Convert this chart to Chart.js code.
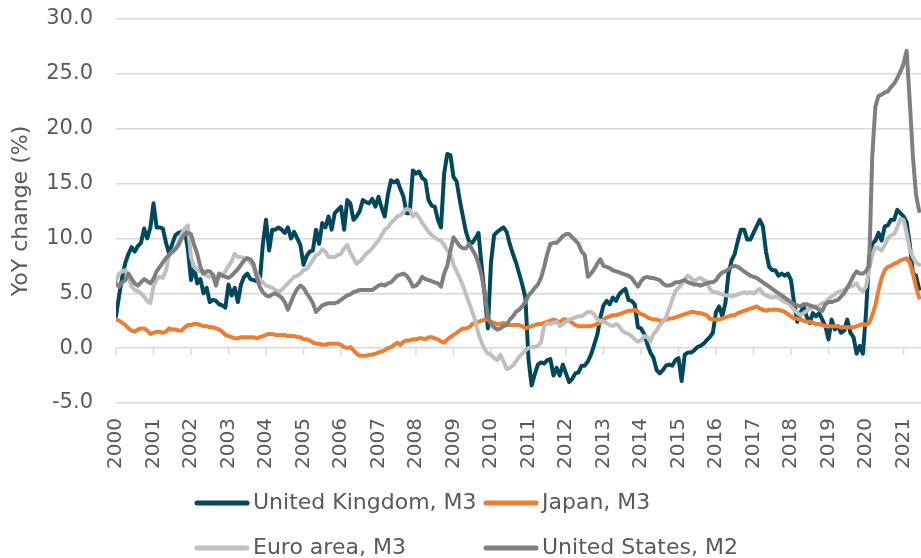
<!DOCTYPE html>
<html>
<head>
<meta charset="utf-8">
<script src="https://cdn.jsdelivr.net/npm/chart.js@4"></script>
<style>
  html, body { margin: 0; padding: 0; background: #fff; overflow: hidden; }
  #wrap { width: 921px; height: 558px; }
</style>
</head>
<body>
<div id="wrap"><canvas id="myChart" width="921" height="558"></canvas></div>
<script>
// monthly YoY change (%), Jan 2000 .. Jun 2021
const years = ['2000', '2001', '2002', '2003', '2004', '2005', '2006', '2007', '2008', '2009', '2010',
               '2011', '2012', '2013', '2014', '2015', '2016', '2017', '2018', '2019', '2020', '2021'];
const seriesNames = ['United Kingdom, M3', 'Japan, M3', 'Euro area, M3', 'United States, M2'];

const ukM3 = [
  2.9, 4.8, 6.5, 7.8, 8.6, 9.2, 8.8, 9.3, 9.6, 10.9, 10.0, 11.0,
  13.2, 11.0, 11.0, 10.9, 9.6, 8.6, 9.5, 10.3, 10.5, 10.6, 10.8, 9.0,
  6.2, 7.4, 5.9, 6.3, 5.0, 5.5, 4.2, 4.4, 4.3, 4.0, 3.9, 3.7,
  5.8, 4.8, 5.5, 4.2, 5.8, 6.5, 6.8, 6.3, 6.2, 6.1, 6.0, 9.5,
  11.7, 8.9, 10.8, 10.8, 11.0, 10.8, 10.5, 11.0, 10.0, 10.6, 10.0, 9.4,
  7.6, 8.4, 8.8, 8.9, 10.8, 9.5, 11.4, 11.0, 12.0, 10.8, 12.3, 12.6,
  12.9, 10.8, 13.5, 13.2, 11.7, 12.0, 12.5, 13.5, 13.3, 13.2, 13.6, 12.9,
  13.8, 12.8, 12.0, 14.0, 15.3, 15.1, 15.3, 14.5, 13.8, 12.3, 12.3, 16.2,
  15.9, 16.1, 15.5, 15.3, 13.5, 13.0, 12.9, 11.7, 11.0, 15.9, 17.7, 17.6,
  15.6, 15.2, 13.5, 12.0, 10.6, 9.7, 9.6, 10.0, 10.5, 7.5, 4.8, 1.8,
  7.8, 10.3, 10.6, 10.8, 11.0, 10.6, 9.5, 8.6, 7.8, 6.8, 5.8, 4.6,
  -1.0, -3.4, -2.4, -1.5, -1.3, -1.4, -1.1, -1.0, -2.5, -1.8, -2.5, -1.5,
  -2.3, -3.1, -2.8, -2.3, -2.2, -1.6, -1.6, -1.2, -0.6, 0.3, 1.2, 2.8,
  3.9, 4.3, 4.0, 4.6, 4.3, 4.9, 5.2, 5.4, 4.4, 4.3, 4.0, 1.9,
  1.8, 1.3, 0.4, -0.4, -0.9, -2.0, -2.3, -2.0, -1.6, -1.5, -1.6, -1.1,
  -0.9, -3.0, -0.6, -0.4, -0.4, -0.2, 0.1, 0.2, 0.4, 0.7, 1.0, 1.4,
  3.3, 3.8, 2.9, 4.1, 6.8, 8.0, 8.6, 9.8, 10.8, 10.8, 9.9, 9.9,
  10.5, 11.1, 11.7, 11.1, 8.8, 7.4, 7.1, 7.1, 6.6, 6.8, 6.6, 6.8,
  6.2, 4.1, 2.4, 3.2, 3.8, 2.9, 2.3, 3.2, 2.9, 3.2, 2.6, 2.0,
  0.8, 2.6, 1.7, 2.0, 1.4, 1.6, 2.6, 1.4, 1.0, -0.5, 0.2, -0.5,
  3.2, 8.3, 9.5, 9.8, 10.5, 9.8, 11.1, 11.2, 11.7, 11.7, 12.6, 12.3,
  12.0, 11.5, 9.5, 6.8, 6.6, 5.4
];

const japanM3 = [
  2.6, 2.5, 2.3, 2.1, 1.8, 1.6, 1.5, 1.7, 1.8, 1.8, 1.6, 1.3,
  1.4, 1.5, 1.5, 1.4, 1.5, 1.8, 1.7, 1.7, 1.6, 1.6, 1.9, 2.1,
  2.1, 2.2, 2.2, 2.1, 2.0, 2.0, 1.9, 1.9, 1.8, 1.7, 1.5, 1.2,
  1.1, 1.0, 0.9, 0.9, 1.0, 1.0, 1.0, 1.0, 1.0, 0.9, 1.0, 1.1,
  1.2, 1.3, 1.3, 1.2, 1.2, 1.2, 1.2, 1.1, 1.1, 1.1, 1.0, 1.0,
  0.8, 0.8, 0.7, 0.5, 0.4, 0.4, 0.3, 0.3, 0.4, 0.4, 0.4, 0.4,
  0.3, 0.1, 0.0, 0.1, -0.2, -0.5, -0.7, -0.7, -0.7, -0.6, -0.6, -0.5,
  -0.4, -0.3, -0.2, 0.0, 0.1, 0.3, 0.5, 0.3, 0.6, 0.7, 0.7, 0.8,
  0.8, 0.9, 0.9, 0.8, 1.0, 1.0, 0.9, 0.8, 0.6, 0.5, 0.8, 1.0,
  1.2, 1.4, 1.6, 1.8, 1.8, 1.9, 2.2, 2.3, 2.4, 2.5, 2.6, 2.6,
  2.4, 2.3, 2.2, 2.2, 2.3, 2.2, 2.1, 2.1, 2.1, 2.1, 2.0, 1.8,
  1.9, 2.0, 2.1, 2.2, 2.2, 2.3, 2.4, 2.5, 2.6, 2.5, 2.3, 2.6,
  2.6, 2.5, 2.3, 2.1, 2.0, 2.0, 2.0, 2.0, 2.0, 2.1, 2.2, 2.3,
  2.6, 2.8, 2.9, 3.0, 3.0, 3.1, 3.2, 3.3, 3.4, 3.4, 3.5, 3.3,
  3.1, 3.0, 2.8, 2.7, 2.6, 2.6, 2.5, 2.5, 2.6, 2.7, 2.7, 2.8,
  2.9, 3.0, 3.1, 3.2, 3.3, 3.3, 3.2, 3.2, 3.1, 3.0, 2.7, 2.6,
  2.6, 2.6, 2.7, 2.8, 2.9, 3.0, 3.0, 3.2, 3.3, 3.4, 3.5, 3.6,
  3.7, 3.8, 3.6, 3.5, 3.4, 3.5, 3.5, 3.5, 3.5, 3.4, 3.3, 3.1,
  2.9, 2.7, 2.7, 2.6, 2.5, 2.4, 2.4, 2.3, 2.2, 2.2, 2.1, 2.0,
  2.0, 2.0, 2.0, 2.0, 1.9, 1.9, 1.9, 1.9, 1.9, 2.0, 2.1, 2.2,
  2.1, 2.3, 3.0, 3.9, 5.3, 6.4, 7.1, 7.4, 7.5, 7.7, 7.8, 8.0,
  8.1, 8.2, 7.8, 6.8, 5.6, 4.6
];

const euroM3 = [
  6.2, 6.8, 7.0, 7.1, 6.5, 5.6, 5.3, 5.2, 5.0, 4.7, 4.3, 4.1,
  5.6, 6.3, 6.5, 6.4, 7.1, 8.5, 8.8, 9.1, 9.6, 10.4, 10.9, 11.2,
  8.3, 7.4, 7.1, 7.0, 6.8, 6.6, 6.5, 6.5, 6.5, 6.5, 6.6, 7.0,
  7.5, 7.9, 8.6, 8.3, 8.3, 8.2, 8.2, 7.8, 7.4, 6.8, 6.3, 6.0,
  5.7, 5.6, 5.5, 5.3, 5.1, 5.3, 5.6, 5.9, 6.2, 6.5, 6.6, 6.8,
  7.1, 7.2, 7.6, 8.0, 8.5, 8.6, 9.0, 8.8, 8.3, 8.3, 8.3, 8.5,
  8.6, 9.1, 9.4, 8.7, 8.2, 7.7, 7.9, 8.2, 8.6, 8.8, 9.1, 9.5,
  9.8, 10.3, 10.8, 11.0, 11.4, 11.7, 12.0, 12.1, 12.4, 12.7, 12.6, 12.0,
  12.3, 11.9, 11.4, 11.0, 10.6, 10.3, 10.1, 9.9, 9.8, 9.4, 8.9, 8.6,
  7.6, 7.0, 6.4, 5.7, 4.9, 4.1, 3.3, 2.5, 1.3, 0.5, -0.1, -0.5,
  -0.6, -0.9, -1.1, -0.6, -1.2, -1.9, -1.8, -1.6, -1.2, -0.8, -0.5, -0.2,
  0.0, 0.1, 0.1, 0.2, 0.5, 2.0, 2.3, 2.2, 2.3, 2.4, 2.0, 2.2,
  2.4, 2.6, 2.7, 2.8, 2.9, 2.9, 3.1, 3.3, 3.3, 3.1, 2.6, 2.5,
  2.4, 2.3, 2.1, 2.0, 2.2, 2.0, 1.6, 1.4, 1.3, 1.1, 0.8, 0.6,
  0.7, 1.1, 1.0, 0.6, 1.3, 1.6, 2.1, 2.4, 2.8, 3.6, 4.4, 5.2,
  5.5, 5.8, 6.3, 6.6, 6.4, 6.1, 6.3, 6.4, 6.2, 6.1, 5.4, 5.1,
  5.1, 5.0, 4.9, 4.8, 4.8, 4.7, 4.8, 4.9, 5.0, 5.1, 5.0, 5.1,
  5.0, 5.2, 5.4, 5.0, 4.8, 4.7, 4.6, 4.7, 4.6, 4.4, 4.2, 4.1,
  3.8, 3.5, 3.2, 3.0, 3.2, 3.4, 3.6, 3.7, 3.8, 3.9, 4.1, 4.2,
  4.5, 4.7, 4.9, 5.1, 5.2, 5.3, 5.5, 5.6, 5.7, 5.9, 5.4, 5.2,
  5.6, 7.2, 8.5, 9.2, 9.1, 8.9, 9.4, 10.0, 10.3, 10.4, 11.0, 11.8,
  11.7, 10.5, 9.0, 8.3, 7.8, 7.6
];

const usM2 = [
  5.9, 5.6, 6.0, 6.2, 6.8, 6.3, 5.9, 5.7, 6.0, 6.3, 6.1, 5.9,
  6.3, 7.0, 7.4, 7.8, 8.2, 8.5, 8.8, 9.0, 9.4, 10.0, 10.4, 10.5,
  10.4, 9.4, 8.6, 7.4, 6.8, 7.0, 7.0, 6.7, 5.7, 6.8, 6.6, 6.5,
  6.4, 6.6, 6.9, 7.2, 7.6, 8.0, 8.2, 8.1, 7.7, 6.5, 5.6, 5.1,
  4.8, 4.7, 4.9, 5.0, 4.8, 4.6, 4.2, 3.5, 4.2, 4.9, 5.4, 5.7,
  5.5, 5.0, 4.6, 4.1, 3.3, 3.6, 3.9, 4.0, 4.1, 4.1, 4.1, 4.2,
  4.4, 4.6, 4.8, 4.9, 5.1, 5.2, 5.3, 5.3, 5.3, 5.3, 5.3, 5.5,
  5.7, 5.8, 5.7, 5.9, 6.0, 6.3, 6.6, 6.7, 6.8, 6.6, 6.2, 5.6,
  5.7, 6.0, 6.5, 6.3, 6.2, 6.1, 6.0, 5.9, 5.6, 6.8, 7.5, 8.9,
  10.1, 9.7, 9.3, 9.1, 9.1, 9.5, 9.0, 8.5, 7.7, 6.6, 5.0, 2.8,
  2.2, 1.9, 1.7, 1.8, 2.0, 2.1, 2.6, 2.9, 3.3, 3.5, 3.8, 4.2,
  4.8, 5.1, 5.5, 5.8, 6.4, 7.4, 8.6, 9.5, 9.6, 9.6, 9.9, 10.2,
  10.4, 10.4, 10.1, 9.8, 9.5, 8.8, 8.5, 6.5, 6.8, 7.2, 7.7, 8.1,
  7.5, 7.4, 7.3, 7.1, 7.0, 6.9, 6.8, 6.7, 6.6, 6.4, 6.0, 5.6,
  6.1, 6.4, 6.5, 6.4, 6.4, 6.3, 6.2, 5.9, 5.7, 5.7, 5.8, 6.0,
  6.0, 6.1, 6.2, 6.0, 5.9, 5.8, 5.8, 5.7, 5.8, 5.9, 6.0, 6.0,
  6.2, 6.6, 6.9, 7.0, 7.2, 7.4, 7.5, 7.4, 7.2, 7.0, 6.8, 6.6,
  6.5, 6.4, 6.2, 6.0, 5.8, 5.6, 5.4, 5.2, 5.0, 4.8, 4.6, 4.4,
  4.2, 4.0, 3.9, 3.8, 4.0, 4.0, 3.9, 3.8, 3.7, 3.5, 3.4, 4.0,
  4.2, 4.2, 4.3, 4.4, 4.7, 5.0, 5.5, 6.0, 6.6, 7.0, 6.8, 6.8,
  7.0, 7.5, 17.5, 22.0, 23.0, 23.1, 23.3, 23.4, 23.8, 24.1, 24.6, 25.2,
  25.9, 27.1, 22.5, 17.5, 14.0, 12.5
];

const colors = ['#00485c', '#ed7d31', '#bfbfbf', '#7f7f7f'];
const textColor = '#595959';
const gridColor = '#d9d9d9';
const fontFamily = "'DejaVu Sans', sans-serif";

function toPoints(values) {
    return values.map((v, i) => ({ x: i, y: v }));
}

// small tick marks on the zero line, one per year
const zeroTicks = {
    id: 'zeroTicks',
    beforeDatasetsDraw(chart) {
        const ctx = chart.ctx;
        const xs = chart.scales.x;
        const y0 = chart.scales.y.getPixelForValue(0);
        ctx.save();
        ctx.strokeStyle = gridColor;
        ctx.lineWidth = 1.5;
        ctx.beginPath();
        years.forEach((yr, i) => {
            const px = xs.getPixelForValue(i * 12);
            ctx.moveTo(px, y0);
            ctx.lineTo(px, y0 + 7);
        });
        ctx.stroke();
        ctx.restore();
    }
};

// two-column legend under the axis
const bottomLegend = {
    id: 'bottomLegend',
    afterDraw(chart) {
        const ctx = chart.ctx;
        const colX = [194, 483];
        const rowY = [503, 548];
        ctx.save();
        ctx.font = '22px ' + fontFamily;
        ctx.textBaseline = 'middle';
        ctx.fillStyle = textColor;
        chart.data.datasets.forEach((ds, i) => {
            const x = colX[i % 2];
            const y = rowY[Math.floor(i / 2)];
            ctx.strokeStyle = ds.borderColor;
            ctx.lineWidth = 5;
            ctx.lineCap = 'round';
            ctx.beginPath();
            ctx.moveTo(x + 3, y);
            ctx.lineTo(x + 53, y);
            ctx.stroke();
            ctx.fillText(ds.label, x + 59, y);
        });
        ctx.restore();
    }
};

document.addEventListener("DOMContentLoaded", function() {
    const ctx = document.getElementById('myChart').getContext('2d');
    const allSeries = [ukM3, japanM3, euroM3, usM2];

    new Chart(ctx, {
        type: 'line',
        data: {
            datasets: allSeries.map((vals, i) => ({
                label: seriesNames[i],
                data: toPoints(vals),
                borderColor: colors[i],
                backgroundColor: colors[i],
                borderWidth: 4,
                pointRadius: 0,
                fill: false,
                order: allSeries.length - 1 - i
            }))
        },
        options: {
            responsive: false,
            animation: false,
            layout: { padding: { top: 19, right: 0, bottom: 0, left: 0 } },
            elements: {
                line: { tension: 0, borderCapStyle: 'round', borderJoinStyle: 'round' }
            },
            plugins: {
                legend: { display: false },
                tooltip: { enabled: false }
            },
            scales: {
                x: {
                    type: 'linear',
                    min: 0,
                    max: 257.6,
                    grid: { display: false, drawTicks: false },
                    border: { display: false },
                    afterBuildTicks: (scale) => {
                        scale.ticks = years.map((y, i) => ({ value: i * 12 }));
                    },
                    afterFit: (scale) => {
                        scale.height = 155;
                        scale.paddingLeft = 0;
                        scale.paddingRight = 0;
                    },
                    ticks: {
                        autoSkip: false,
                        minRotation: 90,
                        maxRotation: 90,
                        padding: 15,
                        color: textColor,
                        font: { family: fontFamily, size: 20 },
                        callback: (v) => years[Math.round(v / 12)]
                    }
                },
                y: {
                    min: -5,
                    max: 30,
                    grid: { color: gridColor, lineWidth: 1.5, drawTicks: false },
                    border: { display: false },
                    afterFit: (scale) => {
                        scale.width = 116;
                        scale.paddingTop = 0;
                        scale.paddingBottom = 0;
                    },
                    ticks: {
                        stepSize: 5,
                        padding: 23,
                        color: textColor,
                        font: { family: fontFamily, size: 21 },
                        callback: (v) => v.toFixed(1)
                    },
                    title: {
                        display: true,
                        text: 'YoY change (%)',
                        color: textColor,
                        font: { family: fontFamily, size: 22 },
                        padding: { top: 8, bottom: 0 }
                    }
                }
            }
        },
        plugins: [zeroTicks, bottomLegend]
    });
});
</script>
</body>
</html>
